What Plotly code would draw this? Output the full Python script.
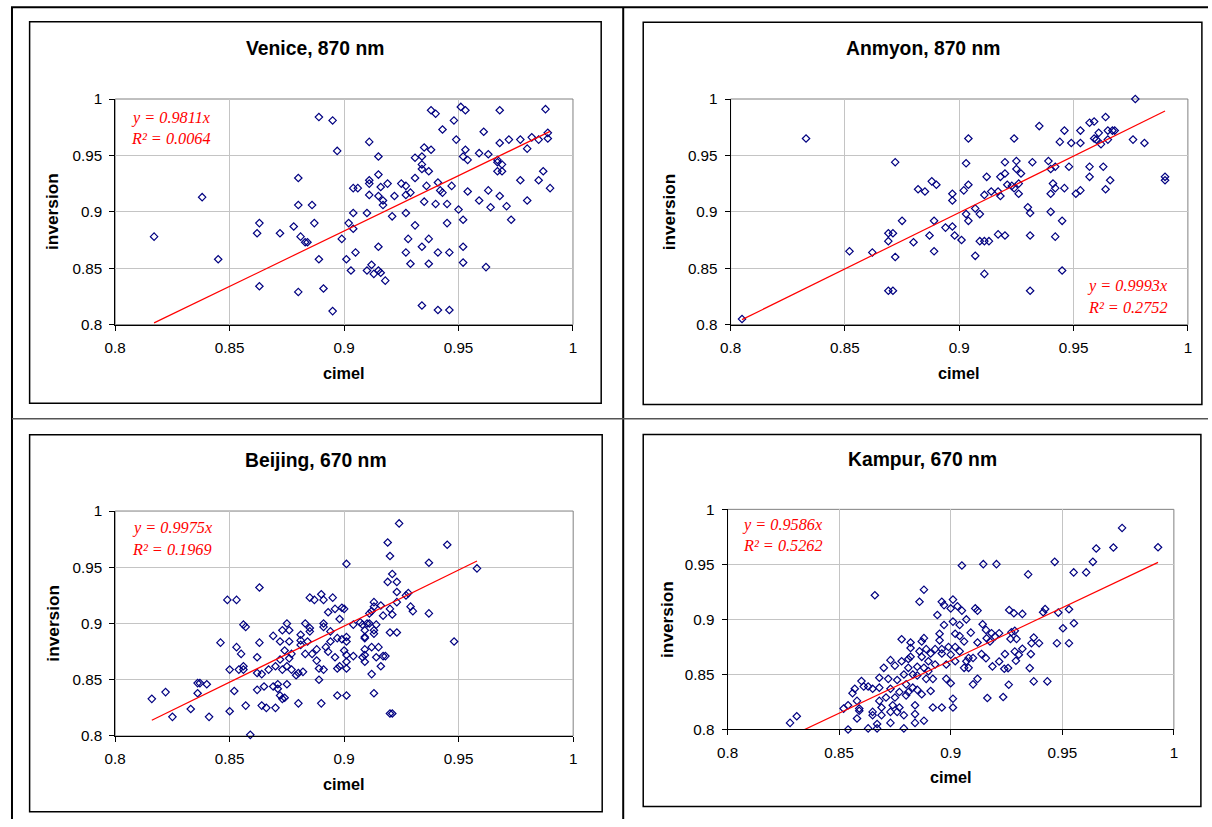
import plotly.graph_objects as go

# ---------------- data ----------------
venice_x = [
    0.817, 0.838, 0.845, 0.862, 0.863, 0.863, 0.872, 0.878, 0.880, 0.880,
    0.881, 0.880, 0.883, 0.884, 0.886, 0.887, 0.889, 0.889, 0.895, 0.897,
    0.891, 0.895, 0.899, 0.901, 0.902,
    0.904, 0.903, 0.904, 0.904, 0.906, 0.905, 0.910, 0.911, 0.911, 0.911,
    0.911, 0.910, 0.912, 0.913, 0.915, 0.915, 0.915, 0.915, 0.915, 0.916,
    0.916, 0.917, 0.917, 0.918, 0.919, 0.921, 0.922, 0.925, 0.927, 0.927,
    0.927, 0.927, 0.928, 0.929, 0.929, 0.931, 0.931, 0.931, 0.934, 0.934,
    0.935, 0.934, 0.934, 0.934, 0.935, 0.936, 0.937, 0.937, 0.937, 0.938,
    0.938, 0.940, 0.940, 0.941, 0.941, 0.941, 0.942, 0.943, 0.943, 0.945,
    0.945, 0.946, 0.946, 0.947, 0.948, 0.949, 0.950, 0.951, 0.953, 0.952,
    0.952, 0.952, 0.952, 0.953, 0.954, 0.954, 0.959, 0.959, 0.961, 0.962,
    0.963, 0.963, 0.964, 0.967, 0.967, 0.967, 0.968, 0.968, 0.968, 0.969,
    0.969, 0.971, 0.972, 0.973, 0.977, 0.977, 0.980, 0.980, 0.982, 0.985,
    0.985, 0.987, 0.988, 0.989, 0.989, 0.990,
]
venice_y = [
    0.878, 0.913, 0.858, 0.881, 0.890, 0.834, 0.881, 0.887, 0.930, 0.906,
    0.878, 0.829, 0.873, 0.873, 0.906, 0.890, 0.858, 0.984, 0.981, 0.954,
    0.832, 0.812, 0.876, 0.858, 0.890,
    0.885, 0.848, 0.899, 0.921, 0.921, 0.864, 0.899, 0.962, 0.928, 0.925,
    0.915, 0.848, 0.853, 0.845, 0.933, 0.949, 0.914, 0.869, 0.848, 0.846,
    0.922, 0.910, 0.906, 0.839, 0.925, 0.896, 0.914, 0.925, 0.923, 0.915,
    0.899, 0.864, 0.876, 0.854, 0.917, 0.930, 0.888, 0.948, 0.817, 0.869,
    0.957, 0.949, 0.942, 0.938, 0.909, 0.923, 0.936, 0.876, 0.854, 0.990,
    0.955, 0.987, 0.907, 0.926, 0.813, 0.864, 0.919, 0.917, 0.973, 0.890,
    0.907, 0.813, 0.864, 0.923, 0.981, 0.964, 0.902, 0.993, 0.990, 0.893,
    0.869, 0.855, 0.949, 0.955, 0.946, 0.918, 0.952, 0.910, 0.971, 0.851,
    0.951, 0.919, 0.904, 0.946, 0.944, 0.936, 0.990, 0.961, 0.914, 0.942,
    0.936, 0.905, 0.964, 0.893, 0.964, 0.928, 0.956, 0.910, 0.966, 0.964,
    0.928, 0.936, 0.991, 0.970, 0.965, 0.921,
]

anmyon_x = [
    0.805, 0.833, 0.852, 0.862, 0.869, 0.871, 0.869, 0.872, 0.869, 0.871,
    0.872, 0.875, 0.880, 0.882, 0.885, 0.888, 0.890, 0.887, 0.889, 0.889,
    0.894, 0.897, 0.897, 0.897, 0.898, 0.901, 0.902, 0.903, 0.904, 0.904,
    0.903, 0.904,
    0.907, 0.909, 0.907, 0.909, 0.911, 0.913, 0.911, 0.911, 0.912, 0.914,
    0.917, 0.917, 0.918, 0.918, 0.920, 0.920, 0.920, 0.921, 0.923, 0.924,
    0.924, 0.925, 0.925, 0.926, 0.926, 0.927, 0.930, 0.931, 0.931, 0.931,
    0.932, 0.935, 0.939, 0.940, 0.940, 0.940, 0.941, 0.942, 0.942, 0.942,
    0.944, 0.945, 0.945, 0.946, 0.946, 0.948, 0.949, 0.951, 0.953, 0.953,
    0.953, 0.957, 0.957, 0.957, 0.959, 0.959, 0.960, 0.961, 0.962, 0.963,
    0.964, 0.964, 0.965, 0.965, 0.966, 0.967, 0.968, 0.976, 0.977, 0.981,
    0.990, 0.990,
]
anmyon_y = [
    0.805, 0.965, 0.865, 0.864, 0.881, 0.881, 0.874, 0.860, 0.830, 0.830,
    0.944, 0.892, 0.873, 0.920, 0.918, 0.927, 0.924, 0.879, 0.892, 0.865,
    0.886, 0.916, 0.910, 0.887, 0.879, 0.875, 0.919, 0.943, 0.924, 0.965,
    0.898, 0.892,
    0.903, 0.898, 0.861, 0.874, 0.874, 0.874, 0.845, 0.915, 0.931, 0.918,
    0.880, 0.918, 0.914, 0.931, 0.934, 0.944, 0.879, 0.924, 0.923, 0.965,
    0.921, 0.945, 0.938, 0.925, 0.916, 0.934, 0.904, 0.899, 0.879, 0.830,
    0.944, 0.976, 0.945, 0.938, 0.916, 0.900, 0.925, 0.921, 0.940, 0.878,
    0.962, 0.848, 0.892, 0.972, 0.921, 0.940, 0.961, 0.916, 0.972, 0.961,
    0.919, 0.979, 0.940, 0.931, 0.980, 0.965, 0.964, 0.970, 0.960, 0.940,
    0.984, 0.920, 0.972, 0.964, 0.928, 0.972, 0.972, 0.964, 1.000, 0.961,
    0.931, 0.928,
]

beijing_x = [
    0.816, 0.822, 0.825, 0.833, 0.836, 0.837, 0.836, 0.840, 0.841, 0.846,
    0.849, 0.853, 0.850, 0.850, 0.852, 0.853, 0.854, 0.855, 0.856, 0.856,
    0.856, 0.857, 0.857, 0.859, 0.862, 0.862, 0.863, 0.863, 0.862, 0.864,
    0.864, 0.865, 0.866, 0.867, 0.869, 0.869, 0.870, 0.870, 0.871, 0.871,
    0.872, 0.872, 0.872, 0.873, 0.873, 0.873, 0.874, 0.874, 0.875, 0.875,
    0.875, 0.876, 0.876, 0.876, 0.877, 0.877, 0.879, 0.880, 0.880, 0.881,
    0.881, 0.881, 0.882, 0.883, 0.883, 0.884, 0.885, 0.885, 0.885, 0.886,
    0.887, 0.888, 0.889, 0.889, 0.888, 0.890, 0.891, 0.891, 0.891, 0.891,
    0.892, 0.893, 0.890, 0.893, 0.894, 0.894, 0.895, 0.896, 0.896, 0.897,
    0.897, 0.897, 0.898, 0.898, 0.899, 0.899, 0.900, 0.900, 0.901, 0.901,
    0.901, 0.901, 0.901, 0.901, 0.901,
    0.904, 0.904, 0.907, 0.908, 0.909, 0.909, 0.909, 0.910, 0.911, 0.911,
    0.912, 0.913, 0.913, 0.913, 0.913, 0.914, 0.909, 0.909, 0.908, 0.909,
    0.912, 0.914, 0.915, 0.916, 0.917, 0.918, 0.912, 0.913, 0.916, 0.917,
    0.919, 0.920, 0.919, 0.920, 0.921, 0.920, 0.923, 0.920, 0.921, 0.921,
    0.923, 0.923, 0.923, 0.924, 0.927, 0.928, 0.929, 0.930, 0.937, 0.937,
    0.945, 0.948, 0.958,
]
beijing_y = [
    0.833, 0.839, 0.817, 0.824, 0.847, 0.847, 0.838, 0.846, 0.817, 0.883,
    0.921, 0.921, 0.859, 0.822, 0.840, 0.879, 0.859, 0.873, 0.862, 0.859,
    0.899, 0.897, 0.827, 0.801, 0.870, 0.856, 0.883, 0.932, 0.841, 0.855,
    0.827, 0.844, 0.825, 0.859, 0.889, 0.844, 0.825, 0.862, 0.846, 0.842,
    0.884, 0.868, 0.836, 0.833, 0.894, 0.859, 0.876, 0.834, 0.846, 0.900,
    0.862, 0.884, 0.894, 0.869, 0.873, 0.859, 0.854, 0.856, 0.829, 0.885,
    0.881, 0.890, 0.857, 0.900, 0.873, 0.884, 0.893, 0.896, 0.923, 0.873,
    0.921, 0.867, 0.850, 0.860, 0.877, 0.926, 0.900, 0.859, 0.921, 0.897,
    0.879, 0.875, 0.829, 0.910, 0.893, 0.884, 0.923, 0.913, 0.870, 0.860,
    0.836, 0.887, 0.862, 0.904, 0.886, 0.914, 0.913, 0.876, 0.836, 0.953,
    0.888, 0.884, 0.866, 0.860, 0.872,
    0.899, 0.871, 0.901, 0.899, 0.894, 0.888, 0.887, 0.900, 0.909, 0.900,
    0.911, 0.919, 0.915, 0.894, 0.891, 0.899, 0.877, 0.872, 0.870, 0.866,
    0.879, 0.870, 0.879, 0.862, 0.871, 0.871, 0.855, 0.838, 0.916, 0.907,
    0.972, 0.960, 0.937, 0.913, 0.908, 0.892, 0.892, 0.820, 0.820, 0.944,
    0.937, 0.919, 0.928, 0.989, 0.925, 0.927, 0.915, 0.911, 0.909, 0.954,
    0.970, 0.884, 0.949,
]

kampur_x = [
    0.828, 0.831, 0.854, 0.852, 0.854, 0.858, 0.859, 0.859, 0.858, 0.856,
    0.857, 0.860, 0.861, 0.863, 0.863, 0.865, 0.865, 0.865, 0.866, 0.867,
    0.867, 0.868, 0.868, 0.868, 0.869, 0.869, 0.870, 0.871, 0.872, 0.873,
    0.873, 0.873, 0.873, 0.874, 0.875, 0.875, 0.876, 0.876, 0.877, 0.877,
    0.878, 0.878, 0.879, 0.879, 0.879, 0.880, 0.880, 0.881, 0.881, 0.881,
    0.882, 0.882, 0.882, 0.883, 0.883, 0.884, 0.884, 0.884, 0.885, 0.885,
    0.885, 0.886, 0.886, 0.887, 0.887, 0.887, 0.888, 0.888, 0.888, 0.888,
    0.889, 0.889, 0.890, 0.890, 0.891, 0.891, 0.892, 0.892, 0.893, 0.893,
    0.894, 0.895, 0.895, 0.896, 0.896, 0.896, 0.896, 0.897, 0.897, 0.898,
    0.898, 0.899, 0.900, 0.900, 0.900, 0.901, 0.901, 0.901, 0.901, 0.902,
    0.902, 0.902, 0.903, 0.904, 0.904, 0.904, 0.905, 0.905, 0.906, 0.906,
    0.907, 0.907, 0.908, 0.908, 0.909, 0.910, 0.910, 0.911, 0.912, 0.912,
    0.912,
    0.9146, 0.9205, 0.9143, 0.9158, 0.9161, 0.9176, 0.9183, 0.9198, 0.9217, 0.9138,
    0.9158, 0.9187, 0.9217, 0.9243, 0.9240, 0.9257, 0.9260, 0.9235, 0.9164, 0.9262,
    0.9283, 0.9321, 0.9268, 0.9272, 0.9287, 0.9295, 0.9287, 0.9305, 0.9321, 0.9292,
    0.9347, 0.9354, 0.9359, 0.9362, 0.9372, 0.9372, 0.9396, 0.9414, 0.9423, 0.9433,
    0.9466, 0.9476, 0.9482, 0.9503, 0.9530, 0.9530, 0.9551, 0.9552, 0.9607, 0.9637,
    0.9652, 0.9729, 0.9768, 0.9929,
]
kampur_y = [
    0.806, 0.812, 0.800, 0.819, 0.822, 0.810, 0.817, 0.819, 0.826, 0.833,
    0.837, 0.844, 0.839, 0.839, 0.801, 0.813, 0.816, 0.837, 0.922, 0.805,
    0.801, 0.847, 0.838, 0.826, 0.820, 0.813, 0.856, 0.829, 0.846, 0.837,
    0.816, 0.863, 0.806, 0.822, 0.829, 0.858, 0.816, 0.845, 0.834, 0.820,
    0.882, 0.862, 0.850, 0.801, 0.813, 0.831, 0.841, 0.864, 0.856, 0.834,
    0.874, 0.879, 0.866, 0.850, 0.838, 0.822, 0.814, 0.806, 0.857, 0.836,
    0.849, 0.871, 0.916, 0.880, 0.832, 0.866, 0.883, 0.808, 0.856, 0.927,
    0.846, 0.873, 0.862, 0.853, 0.835, 0.869, 0.820, 0.846, 0.859, 0.873,
    0.904, 0.887, 0.881, 0.916, 0.869, 0.820, 0.873, 0.895, 0.913, 0.846,
    0.859, 0.875, 0.910, 0.868, 0.842, 0.828, 0.820, 0.918, 0.898, 0.887,
    0.875, 0.862, 0.912, 0.895, 0.885, 0.871, 0.908, 0.949, 0.856, 0.880,
    0.900, 0.862, 0.856, 0.865, 0.888, 0.865, 0.841, 0.910, 0.908, 0.879,
    0.846,
    0.9502, 0.9502, 0.8956, 0.8905, 0.8829, 0.8799, 0.8875, 0.8844, 0.8875, 0.8685,
    0.8648, 0.8573, 0.8618, 0.8685, 0.8552, 0.8558, 0.8407, 0.8295, 0.8286, 0.9086,
    0.9056, 0.9050, 0.8823, 0.8884, 0.8896, 0.8823, 0.8709, 0.8679, 0.8733, 0.8624,
    0.9409, 0.8558, 0.8685, 0.8784, 0.8835, 0.8437, 0.8784, 0.9065, 0.9095, 0.8437,
    0.9523, 0.8784, 0.9062, 0.8920, 0.9092, 0.8784, 0.9427, 0.8965, 0.9427, 0.9523,
    0.9644, 0.9653, 0.9831, 0.9656,
]

titles = ["Venice, 870 nm", "Anmyon, 870 nm", "Beijing, 670 nm", "Kampur, 670 nm"]
slopes = [0.9811, 0.9993, 0.9975, 0.9586]
r2_values = ["0.0064", "0.2752", "0.1969", "0.5262"]
series_x = [venice_x, anmyon_x, beijing_x, kampur_x]
series_y = [venice_y, anmyon_y, beijing_y, kampur_y]

tick_vals = [0.8, 0.85, 0.9, 0.95, 1.0]
tick_text = ["0.8", "0.85", "0.9", "0.95", "1"]
x_label = "cimel"
y_label = "inversion"

# ---------------- layout geometry ----------------
# Positions below are pixels of the 1212x827 target picture.  The page keeps
# its 8px body margin and the captured area is the page incl. margins
# (1228x843) shrunk to 1212x827, so target pixels are mapped accordingly.
W, H = 1212, 827
OFF = 8
XSHIFT = 3
KX = (W + 2 * OFF) / W
KY = (H + 2 * OFF) / H
KF = (KX + KY) / 2  # size compensation for fonts / markers


def fx(p):
    return ((p - XSHIFT) * KX - OFF) / W


def fy(p):
    return 1 - (p * KY - OFF) / H


def fs(s):
    return round(s * KF, 2)


panels = [
    dict(plot=(115, 98, 572.5, 324), frame=(29.5, 20.5, 600.7, 402.7),
         title_y=47, ylab_x=52, xlab_y=372, eq=(171, 117, 138)),
    dict(plot=(730, 98, 1187, 324), frame=(642.7, 21, 1201, 404),
         title_y=47, ylab_x=668, xlab_y=372, eq=(1127, 285, 307)),
    dict(plot=(115, 510.7, 572.7, 736), frame=(29.5, 434.3, 601.7, 812),
         title_y=460, ylab_x=52, xlab_y=784, eq=(172, 528, 550)),
    dict(plot=(727, 509, 1173, 729.5), frame=(642.7, 434, 1200, 806.7),
         title_y=459, ylab_x=667, xlab_y=777, eq=(782, 525, 546)),
]

SANS = "Liberation Sans, Arial, sans-serif"
SERIF = "Liberation Serif, Times New Roman, serif"
NAVY = "#000080"

fig = go.Figure()
shapes = []
annotations = []
layout_axes = {}

for i in range(4):
    p = panels[i]
    sfx = "" if i == 0 else str(i + 1)
    xa, ya = "x" + sfx, "y" + sfx
    xs, ys = series_x[i], series_y[i]

    fig.add_trace(go.Scatter(
        x=xs, y=ys, mode="markers", xaxis=xa, yaxis=ya, showlegend=False,
        cliponaxis=False,
        marker=dict(symbol="diamond-open", size=fs(5.6), color=NAVY,
                    line=dict(color=NAVY, width=1.2)),
        hoverinfo="x+y",
    ))
    x0, x1 = min(xs), max(xs)
    fig.add_trace(go.Scatter(
        x=[x0, x1], y=[slopes[i] * x0, slopes[i] * x1], mode="lines",
        xaxis=xa, yaxis=ya, showlegend=False,
        line=dict(color="#ff0000", width=1.2), hoverinfo="skip",
    ))

    L, T, R, B = p["plot"]
    common = dict(
        range=[0.8, 1.0], tickmode="array", tickvals=tick_vals, ticktext=tick_text,
        showgrid=True, gridcolor="#c4c4c4", gridwidth=1, zeroline=False,
        showline=True, linecolor="#000000", linewidth=1, mirror=False,
        ticks="outside", ticklen=5, tickwidth=1, tickcolor="#000000",
        tickfont=dict(family=SANS, size=fs(15), color="#000000"),
        fixedrange=True,
    )
    layout_axes["xaxis" + sfx] = dict(common, domain=[fx(L), fx(R)], anchor=ya,
                                      ticklabelstandoff=4)
    layout_axes["yaxis" + sfx] = dict(common, domain=[fy(B), fy(T)], anchor=xa,
                                      ticklabelstandoff=4)

    # plot-area border (grey), drawn below
    shapes.append(dict(type="rect", xref="paper", yref="paper",
                       x0=fx(L), x1=fx(R), y0=fy(B), y1=fy(T),
                       line=dict(color="#808080", width=1), layer="below"))
    # chart frame
    fL, fT, fR, fB = p["frame"]
    shapes.append(dict(type="rect", xref="paper", yref="paper",
                       x0=fx(fL), x1=fx(fR), y0=fy(fB), y1=fy(fT),
                       line=dict(color="#000000", width=1.5), layer="below"))

    # title
    annotations.append(dict(text="<b>%s</b>" % titles[i], xref="paper", yref="paper",
                            x=fx((fL + fR) / 2), y=fy(p["title_y"]),
                            xanchor="center", yanchor="middle", showarrow=False,
                            font=dict(family=SANS, size=fs(19), color="#000000")))
    # axis titles
    annotations.append(dict(text="<b>%s</b>" % y_label, xref="paper", yref="paper",
                            x=fx(p["ylab_x"]), y=fy((T + B) / 2), textangle=-90,
                            xanchor="center", yanchor="middle", showarrow=False,
                            font=dict(family=SANS, size=fs(17), color="#000000")))
    annotations.append(dict(text="<b>%s</b>" % x_label, xref="paper", yref="paper",
                            x=fx((L + R) / 2), y=fy(p["xlab_y"]),
                            xanchor="center", yanchor="middle", showarrow=False,
                            font=dict(family=SANS, size=fs(16), color="#000000")))
    # trendline equation
    ex, ey1, ey2 = p["eq"]
    annotations.append(dict(text="y = %.4fx" % slopes[i], xref="paper", yref="paper",
                            x=fx(ex), y=fy(ey1), xanchor="center", yanchor="middle",
                            showarrow=False,
                            font=dict(family=SERIF, size=fs(16), color="#ff0000",
                                      style="italic")))
    annotations.append(dict(text="R\u00b2 = %s" % r2_values[i],
                            xref="paper", yref="paper",
                            x=fx(ex), y=fy(ey2), xanchor="center", yanchor="middle",
                            showarrow=False,
                            font=dict(family=SERIF, size=fs(16), color="#ff0000",
                                      style="italic")))

# outer page rules (top and left rules sit at the very edge of the figure)
top_rule = max(fy(6), 1 - 1.0 / H)
left_rule = max(fx(8), 1.0 / W)
shapes += [
    dict(type="line", xref="paper", yref="paper", x0=0, x1=1, y0=top_rule, y1=top_rule,
         line=dict(color="#000000", width=2)),
    dict(type="line", xref="paper", yref="paper", x0=left_rule, x1=left_rule, y0=top_rule, y1=0,
         line=dict(color="#000000", width=2)),
    dict(type="line", xref="paper", yref="paper", x0=fx(622.7), x1=fx(622.7), y0=top_rule, y1=0,
         line=dict(color="#000000", width=2)),
    dict(type="line", xref="paper", yref="paper", x0=left_rule, x1=1, y0=fy(418.3), y1=fy(418.3),
         line=dict(color="#555555", width=1.5)),
]

fig.update_layout(
    width=W, height=H, autosize=False,
    margin=dict(l=0, r=0, t=0, b=0, pad=0),
    paper_bgcolor="#ffffff", plot_bgcolor="rgba(0,0,0,0)",
    shapes=shapes, annotations=annotations,
    **layout_axes,
)

fig.write_html("out.html", config={"displayModeBar": False})
